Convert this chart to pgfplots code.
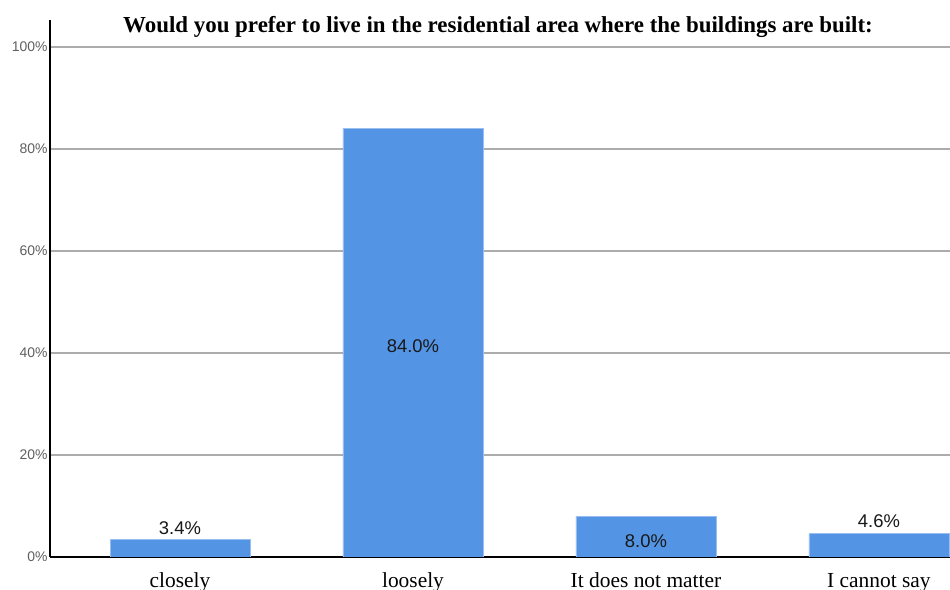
\documentclass[border=0pt]{standalone}
\usepackage{pgfplots}
\pgfplotsset{compat=1.18}
\usepackage{fontspec}
\setmainfont{Liberation Serif}
\newfontfamily\arial{Liberation Sans}
\definecolor{barblue}{RGB}{84,148,228}
\definecolor{gridgray}{RGB}{172,172,172}
\definecolor{ticktext}{RGB}{95,95,95}
\begin{document}
\begin{tikzpicture}
\useasboundingbox (0,0) rectangle (950bp,590bp);
\clip (0,0) rectangle (950bp,590bp);
\begin{axis}[
  at={(50bp,33bp)}, anchor=south west,
  width=900bp, height=537bp, scale only axis,
  xmin=-0.558, xmax=3.305, ymin=0, ymax=105.3,
  axis x line*=bottom, axis y line*=left,
  axis line style={black, line width=1.5bp, -},
  y axis line style={line width=2bp},
  major tick length=0pt,
  xtick={0,1,2,3},
  xticklabels={closely,loosely,It does not matter,I cannot say},
  xticklabel style={font=\fontsize{21.5}{21.5}\selectfont, anchor=base, yshift=-30bp},
  ytick={0,20,40,60,80,100},
  yticklabels={0\%,20\%,40\%,60\%,80\%,100\%},
  yticklabel style={font=\arial\fontsize{14}{14}\selectfont, text=ticktext, xshift=1bp},
  ymajorgrids, grid style={gridgray, line width=1.5bp},
  /pgf/number format/assume math mode=true,
]
\addplot[ybar, bar width=140bp, fill=barblue, draw=barblue!60!white, line width=0.6bp,
  point meta=y,
  nodes near coords={\pgfmathprintnumber[fixed, fixed zerofill, precision=1]{\pgfplotspointmeta}\%},
  visualization depends on={\thisrow{off} \as \off},
  every node near coord/.append style={anchor=center, yshift=\off, font=\arial\fontsize{18.5}{18.5}\selectfont, text=black!90}]
  table[x=x, y=y] {
  x y off
  0 3.4 12
  1 84.0 -218
  2 8.0 -25
  3 4.6 12
  };
\end{axis}
\node[font=\bfseries\fontsize{23}{23}\selectfont, anchor=base] at (498bp,557bp)
  {Would you prefer to live in the residential area where the buildings are built:};
\end{tikzpicture}
\end{document}
